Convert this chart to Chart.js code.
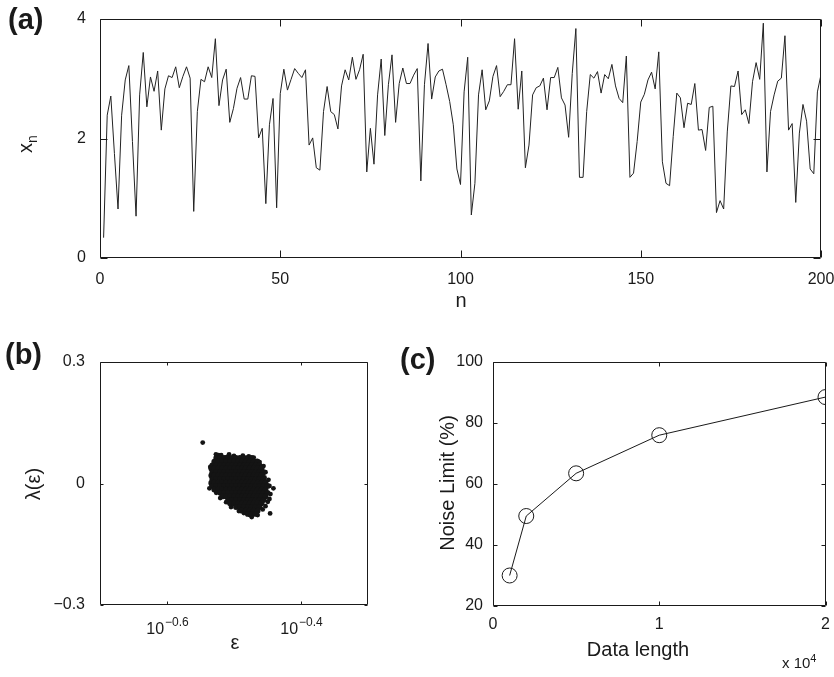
<!DOCTYPE html>
<html>
<head>
<meta charset="utf-8">
<script src="https://cdn.jsdelivr.net/npm/chart.js@4.4.1/dist/chart.umd.min.js"></script>
<style>
  html, body { margin: 0; padding: 0; background: #fff; }
  #page { position: relative; width: 834px; height: 677px; overflow: hidden;
          font-family: "Liberation Sans", Arial, Helvetica, sans-serif; color: #1a1a1a; }
  canvas { position: absolute; }
  .tag { position: absolute; font-weight: bold; font-size: 29px; line-height: 1; }
  .lbl { position: absolute; transform: translate(-50%, -50%); white-space: nowrap; font-size: 20px; line-height: 1; }
  .rot { transform: translate(-50%, -50%) rotate(-90deg); }
</style>
</head>
<body>
<div id="page">
  <canvas id="chartA" width="834" height="320" style="left:0;top:0"></canvas>
  <canvas id="chartB" width="400" height="347" style="left:0;top:330px"></canvas>
  <canvas id="chartC" width="434" height="347" style="left:400px;top:330px"></canvas>

  <div class="tag" style="left:8px;top:5px">(a)</div>
  <div class="tag" style="left:5px;top:340px">(b)</div>
  <div class="tag" style="left:400px;top:345px">(c)</div>

  <div class="lbl" style="left:461px;top:300px">n</div>
  <div class="lbl rot" style="left:27px;top:144px">x<sub style="font-size:14px">n</sub></div>
  <div class="lbl rot" style="left:33px;top:484px">λ(ε)</div>
  <div class="lbl" style="left:235px;top:642px">ε</div>
  <div class="lbl rot" style="left:447px;top:483px">Noise Limit (%)</div>
  <div class="lbl" style="left:638px;top:649px">Data length</div>
  <div style="position:absolute;left:782px;top:652px;font-size:15px;white-space:nowrap">x 10<sup style="font-size:11px">4</sup></div>
</div>

<script>
// (a) time series x_n, n = 1..200
const xnValues = [
  0.34, 2.39, 2.71, 1.75, 0.82, 2.39, 2.98, 3.22, 1.95, 0.70,
  2.73, 3.44, 2.53, 3.03, 2.79, 3.13, 2.14, 2.83, 3.05, 3.02,
  3.20, 2.85, 3.04, 3.20, 3.01, 0.78, 2.45, 2.99, 2.95, 3.20,
  3.02, 3.67, 2.55, 2.98, 3.16, 2.27, 2.50, 2.84, 3.02, 2.66,
  2.66, 3.05, 3.04, 2.01, 2.17, 0.91, 2.23, 2.67, 0.84, 2.75,
  3.16, 2.81, 2.99, 3.17, 3.09, 3.02, 3.15, 1.89, 2.01, 1.51,
  1.47, 2.45, 2.87, 2.45, 2.40, 2.16, 2.88, 3.15, 2.98, 3.36,
  2.99, 3.15, 3.41, 1.44, 2.17, 1.57, 2.73, 3.33, 2.05, 2.90,
  3.40, 2.27, 2.92, 3.18, 2.92, 2.92, 3.06, 3.17, 1.29, 2.90,
  3.59, 2.66, 3.03, 3.13, 3.16, 2.90, 2.62, 2.23, 1.49, 1.23,
  2.78, 3.36, 0.72, 1.25, 2.73, 3.15, 2.48, 2.63, 3.04, 3.22,
  2.70, 2.79, 2.90, 2.90, 3.67, 2.49, 3.13, 1.51, 1.89, 2.73,
  2.85, 2.88, 3.01, 2.48, 3.02, 3.02, 3.19, 2.68, 2.56, 2.02,
  3.09, 3.84, 1.35, 1.35, 2.45, 3.07, 3.01, 3.12, 2.76, 3.07,
  3.00, 3.24, 2.88, 2.67, 2.60, 3.38, 1.35, 1.42, 1.95, 2.61,
  2.74, 2.98, 3.11, 2.83, 3.45, 1.61, 1.25, 1.21, 2.03, 2.76,
  2.68, 2.18, 2.59, 2.57, 2.92, 2.14, 2.15, 1.80, 2.52, 2.54,
  0.76, 0.96, 0.82, 2.11, 2.88, 2.87, 3.13, 2.40, 2.48, 2.25,
  2.95, 3.27, 2.99, 3.93, 1.44, 2.45, 2.73, 2.96, 3.01, 3.72,
  2.14, 2.25, 0.93, 2.09, 2.57, 2.29, 1.49, 1.41, 2.78, 3.07
];
const nTicks = [0, 50, 100, 150, 200];
const xnTicks = [0, 2, 4];

// (b) lambda(eps) scatter: dense cluster rows (one lambda per row) plus stray points
const blobLambda = [0.063, 0.054, 0.045, 0.037, 0.028, 0.020, 0.011, 0.002, -0.006,
  -0.015, -0.023, -0.032, -0.041, -0.049, -0.058, -0.067, -0.075];
const blobEps = [
  [0.2975, 0.3016, 0.3057, 0.3099, 0.3141, 0.3184, 0.3227, 0.3271, 0.3316, 0.3361],
  [0.2955, 0.2996, 0.3037, 0.3078, 0.3119, 0.3162, 0.3205, 0.3249, 0.3293, 0.3338, 0.3384, 0.3430],
  [0.2935, 0.2975, 0.3016, 0.3057, 0.3099, 0.3141, 0.3184, 0.3227, 0.3271, 0.3316, 0.3361, 0.3407, 0.3453],
  [0.2925, 0.2955, 0.2996, 0.3037, 0.3078, 0.3119, 0.3162, 0.3205, 0.3249, 0.3293, 0.3338, 0.3384, 0.3430, 0.3477],
  [0.2935, 0.2975, 0.3016, 0.3057, 0.3099, 0.3141, 0.3184, 0.3227, 0.3271, 0.3316, 0.3361, 0.3407, 0.3453, 0.3500],
  [0.2925, 0.2955, 0.2996, 0.3037, 0.3078, 0.3119, 0.3162, 0.3205, 0.3249, 0.3293, 0.3338, 0.3384, 0.3430, 0.3477],
  [0.2935, 0.2975, 0.3016, 0.3057, 0.3099, 0.3141, 0.3184, 0.3227, 0.3271, 0.3316, 0.3361, 0.3407, 0.3453, 0.3500],
  [0.2925, 0.2955, 0.2996, 0.3037, 0.3078, 0.3119, 0.3162, 0.3205, 0.3249, 0.3293, 0.3338, 0.3384, 0.3430, 0.3477, 0.3524],
  [0.2935, 0.2975, 0.3016, 0.3057, 0.3099, 0.3141, 0.3184, 0.3227, 0.3271, 0.3316, 0.3361, 0.3407, 0.3453, 0.3500, 0.3548],
  [0.2955, 0.2996, 0.3037, 0.3078, 0.3119, 0.3162, 0.3205, 0.3249, 0.3293, 0.3338, 0.3384, 0.3430, 0.3477, 0.3524],
  [0.3016, 0.3057, 0.3099, 0.3141, 0.3184, 0.3227, 0.3271, 0.3316, 0.3361, 0.3407, 0.3453, 0.3500, 0.3548],
  [0.3037, 0.3078, 0.3119, 0.3162, 0.3205, 0.3249, 0.3293, 0.3338, 0.3384, 0.3430, 0.3477, 0.3524],
  [0.3099, 0.3141, 0.3184, 0.3227, 0.3271, 0.3316, 0.3361, 0.3407, 0.3453, 0.3500],
  [0.3119, 0.3162, 0.3205, 0.3249, 0.3293, 0.3338, 0.3384, 0.3430, 0.3477],
  [0.3184, 0.3227, 0.3271, 0.3316, 0.3361, 0.3407, 0.3453],
  [0.3249, 0.3293, 0.3338, 0.3384, 0.3430],
  [0.3316, 0.3361, 0.3407]
];
const strayEps = [0.2840, 0.2972, 0.2999, 0.2915, 0.2922, 0.3085, 0.3208, 0.3301,
  0.3422, 0.3512, 0.3621, 0.3552, 0.3580, 0.3490, 0.3338, 0.3422,
  0.3026, 0.3109, 0.3162, 0.3260, 0.3327, 0.3384, 0.2906, 0.2975, 0.3016, 0.3078,
  0.3130, 0.3216, 0.3271, 0.3361, 0.3430, 0.3453, 0.3500, 0.3524, 0.3560, 0.3572,
  0.3584, 0.3572, 0.3524];
const strayLambda = [0.101, 0.072, 0.070, 0.041, -0.001, 0.065, 0.062, 0.060,
  0.056, 0.015, -0.012, -0.045, -0.074, -0.064, -0.078, -0.070,
  0.070, 0.072, 0.068, 0.069, 0.067, 0.064, -0.012, -0.023, -0.036, -0.046,
  -0.058, -0.068, -0.073, -0.083, -0.078, 0.053, 0.043, 0.028, 0.009, -0.006,
  -0.026, -0.038, -0.056];
const epsTickExps = [-0.6, -0.4];
const lambdaTicks = [-0.3, 0, 0.3];

// (c) noise limit vs data length
const dataLength = [1000, 2000, 5000, 10000, 20000];
const noiseLimit = [30, 49.5, 63.5, 76, 88.5];
const lengthTicks = [0, 10000, 20000];
const noiseTicks = [20, 40, 60, 80, 100];

const FONT = '"Liberation Sans", Arial, Helvetica, sans-serif';
const INK = '#1a1a1a';
const tickFont = { family: FONT, size: 16 };

// closed box with inward tick marks, like the original figure
const boxTicks = {
  id: 'boxTicks',
  afterDatasetsDraw(chart, args, opts) {
    const { ctx, chartArea: a, scales } = chart;
    const len = opts.len || 5;
    const L = Math.round(a.left) + 0.5, R = Math.round(a.right) - 0.5;
    const T = Math.round(a.top) + 0.5, B = Math.round(a.bottom) - 0.5;
    ctx.save();
    ctx.strokeStyle = INK;
    ctx.lineWidth = 1;
    ctx.beginPath();
    ctx.rect(L, T, R - L, B - T);
    scales.x.ticks.forEach(t => {
      const px = Math.round(scales.x.getPixelForValue(t.value)) + 0.5;
      ctx.moveTo(px, B); ctx.lineTo(px, B - len);
      ctx.moveTo(px, T); ctx.lineTo(px, T + len);
    });
    scales.y.ticks.forEach(t => {
      const py = Math.round(scales.y.getPixelForValue(t.value)) + 0.5;
      ctx.moveTo(L, py); ctx.lineTo(L + len, py);
      ctx.moveTo(R, py); ctx.lineTo(R - len, py);
    });
    ctx.stroke();
    ctx.restore();
  }
};

// "10" with superscript exponent under the log axis of (b)
const logLabels = {
  id: 'logLabels',
  afterDraw(chart, args, opts) {
    const { ctx } = chart;
    const sx = chart.scales.x;
    ctx.save();
    ctx.fillStyle = INK;
    ctx.textBaseline = 'alphabetic';
    ctx.textAlign = 'left';
    epsTickExps.forEach(e => {
      const px = sx.getPixelForValue(Math.pow(10, e));
      const sup = (e < 0 ? '\u2212' : '') + Math.abs(e).toFixed(1);
      ctx.font = '16px ' + FONT;
      const w1 = ctx.measureText('10').width;
      ctx.font = '12px ' + FONT;
      const w2 = ctx.measureText(sup).width;
      const x0 = px - (w1 + w2) / 2;
      ctx.font = '16px ' + FONT;
      ctx.fillText('10', x0, opts.base);
      ctx.font = '12px ' + FONT;
      ctx.fillText(sup, x0 + w1 + 1, opts.base - 8);
    });
    ctx.restore();
  }
};

function fixedAxis(size, horizontal) {
  return function (s) {
    if (horizontal) s.height = size; else s.width = size;
    s.paddingLeft = 0; s.paddingRight = 0; s.paddingTop = 0; s.paddingBottom = 0;
  };
}

function setTicks(values) {
  return function (s) { s.ticks = values.map(v => ({ value: v })); };
}

function minusLabel(v) {
  if (v === 0) return '0';
  return (v < 0 ? '\u2212' : '') + Math.abs(v).toString();
}

const common = {
  responsive: false,
  animation: false,
  events: [],
  plugins: { legend: { display: false }, tooltip: { enabled: false } }
};

// ---- (a)
new Chart(document.getElementById('chartA'), {
  type: 'line',
  data: {
    datasets: [{
      data: xnValues.map((v, i) => ({ x: i + 1, y: v })),
      borderColor: '#222',
      borderWidth: 1,
      pointRadius: 0,
      tension: 0,
      fill: false
    }]
  },
  options: {
    ...common,
    layout: { padding: { left: 0, top: 19, right: 13, bottom: 0 } },
    plugins: { ...common.plugins, boxTicks: { len: 7 } },
    scales: {
      x: {
        type: 'linear', min: 0, max: 200,
        afterBuildTicks: setTicks(nTicks),
        afterFit: fixedAxis(62, true),
        grid: { display: false, drawTicks: false },
        border: { display: false },
        ticks: { padding: 12, font: tickFont, color: INK, maxRotation: 0, autoSkip: false }
      },
      y: {
        min: 0, max: 4,
        afterBuildTicks: setTicks(xnTicks),
        afterFit: fixedAxis(100, false),
        grid: { display: false, drawTicks: false },
        border: { display: false },
        ticks: { padding: 14, font: tickFont, color: INK }
      }
    }
  },
  plugins: [boxTicks]
});

// ---- (b)
const blobPoints = [];
blobLambda.forEach((lam, r) => {
  blobEps[r].forEach(eps => blobPoints.push({ x: eps, y: lam }));
});
const strayPoints = strayEps.map((eps, i) => ({ x: eps, y: strayLambda[i] }));

new Chart(document.getElementById('chartB'), {
  type: 'scatter',
  data: {
    datasets: [
      { data: blobPoints, pointRadius: 2.9, borderWidth: 0, backgroundColor: '#141414' },
      { data: strayPoints, pointRadius: 2.4, borderWidth: 0, backgroundColor: '#141414' }
    ]
  },
  options: {
    ...common,
    layout: { padding: { left: 0, top: 32, right: 32, bottom: 0 } },
    plugins: { ...common.plugins, boxTicks: { len: 3 }, logLabels: { base: 304 } },
    scales: {
      x: {
        type: 'logarithmic', min: Math.pow(10, -0.7), max: Math.pow(10, -0.3),
        afterBuildTicks: setTicks(epsTickExps.map(e => Math.pow(10, e))),
        afterFit: fixedAxis(72, true),
        grid: { display: false, drawTicks: false },
        border: { display: false },
        ticks: { display: false }
      },
      y: {
        min: -0.3, max: 0.3,
        afterBuildTicks: setTicks(lambdaTicks),
        afterFit: fixedAxis(100, false),
        grid: { display: false, drawTicks: false },
        border: { display: false },
        ticks: { padding: 15, font: tickFont, color: INK, callback: minusLabel }
      }
    }
  },
  plugins: [boxTicks, logLabels]
});

// ---- (c)
new Chart(document.getElementById('chartC'), {
  type: 'line',
  data: {
    datasets: [{
      data: dataLength.map((v, i) => ({ x: v, y: noiseLimit[i] })),
      borderColor: '#1a1a1a',
      borderWidth: 1,
      tension: 0,
      fill: false,
      pointStyle: 'circle',
      pointRadius: 7.5,
      pointBorderWidth: 1,
      pointBorderColor: '#1a1a1a',
      pointBackgroundColor: 'rgba(0,0,0,0)'
    }]
  },
  options: {
    ...common,
    layout: { padding: { left: 0, top: 32, right: 8, bottom: 0 } },
    plugins: { ...common.plugins, boxTicks: { len: 4 } },
    scales: {
      x: {
        type: 'linear', min: 0, max: 20000,
        afterBuildTicks: setTicks(lengthTicks),
        afterFit: fixedAxis(71, true),
        grid: { display: false, drawTicks: false },
        border: { display: false },
        ticks: { padding: 9, font: tickFont, color: INK, maxRotation: 0, autoSkip: false,
                 callback: v => String(v / 10000) }
      },
      y: {
        min: 20, max: 100,
        afterBuildTicks: setTicks(noiseTicks),
        afterFit: fixedAxis(93, false),
        grid: { display: false, drawTicks: false },
        border: { display: false },
        ticks: { padding: 10, font: tickFont, color: INK }
      }
    }
  },
  plugins: [boxTicks]
});
</script>
</body>
</html>
